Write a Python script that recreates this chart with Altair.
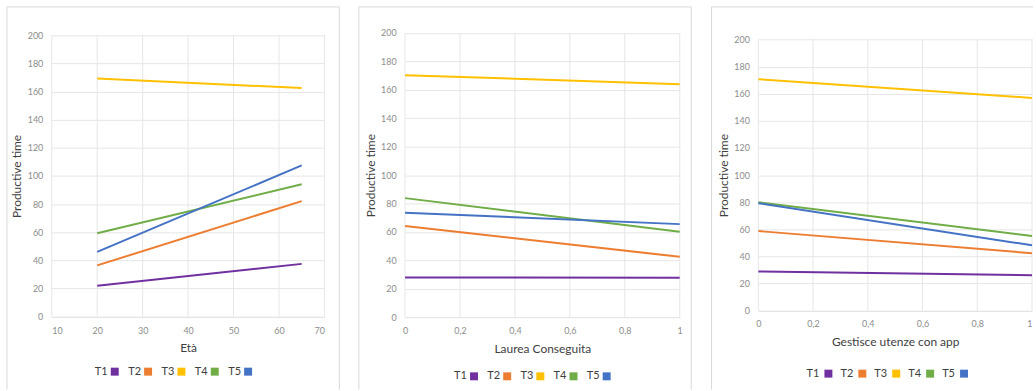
import altair as alt
import pandas as pd

# ---- data -------------------------------------------------------------
SERIES = ["T1", "T2", "T3", "T4", "T5"]
COLORS = ["#7030A0", "#ED7D31", "#FFC000", "#70AD47", "#4472C4"]

# Età (years)
ETA_X = [20, 65]
ETA_START = [21.9, 36.4, 169.2, 59.2, 46.0]
ETA_END = [37.5, 82.1, 162.5, 94.1, 107.5]

# Laurea Conseguita (0 = no, 1 = yes)
LAUREA_X = [0, 1]
LAUREA_START = [28.0, 64.2, 170.3, 83.8, 73.5]
LAUREA_END = [27.7, 42.5, 164.0, 60.2, 65.5]

# Gestisce utenze con app (0 = no, 1 = yes)
APP_X = [0, 1]
APP_START = [28.9, 58.7, 170.8, 80.0, 79.3]
APP_END = [26.2, 42.4, 156.9, 55.1, 48.2]

Y_TICKS = [0, 20, 40, 60, 80, 100, 120, 140, 160, 180, 200]
ETA_TICKS = [10, 20, 30, 40, 50, 60, 70]
FRAC_TICKS = [0, 0.2, 0.4, 0.6, 0.8, 1]

# ---- styling ----------------------------------------------------------
FONT = "Lato"
GRID = "#e6e6e6"
FRAME = "#d9d9d9"
TICK_TXT = "#8c8c8c"
TITLE_TXT = "#404040"

color_enc = alt.Color(
    "series:N", scale=alt.Scale(domain=SERIES, range=COLORS), legend=None
)


def panel(title, xs, starts, ends, x_domain, x_ticks, comma, g):
    rows = []
    for s, a, b in zip(SERIES, starts, ends):
        rows.append({"series": s, "x": xs[0], "y": a})
        rows.append({"series": s, "x": xs[1], "y": b})
    df = pd.DataFrame(rows)

    W, H, TOP = g["w"], g["h"], g["top"]

    x_scale = alt.Scale(domain=x_domain, nice=False, zero=False)
    y_scale = alt.Scale(domain=[0, 200], nice=False, zero=False, range=[H, TOP])

    x_axis_kw = dict(
        values=x_ticks,
        title=title,
        grid=False,
        domainColor=GRID,
        ticks=False,
        tickSize=0,
        labelFont=FONT,
        labelFontSize=9,
        labelColor=TICK_TXT,
        labelBaseline="alphabetic",
        labelPadding=g["xlab"],
        titleFont=FONT,
        titleFontSize=12,
        titleFontWeight="normal",
        titleColor=TITLE_TXT,
        titleBaseline="alphabetic",
        titleX=W / 2,
        titleY=35.5,
    )
    if comma:
        x_axis_kw["labelExpr"] = "replace(format(datum.value, '.1~f'), '.', ',')"
        x_axis_kw["labelAlign"] = {
            "condition": {"test": "datum.value >= 1", "value": g["last_align"]},
            "value": "center",
        }

    y_axis = alt.Axis(
        values=Y_TICKS,
        title="Productive time",
        grid=True,
        gridColor=GRID,
        domain=False,
        ticks=False,
        tickSize=0,
        labelFont=FONT,
        labelFontSize=9,
        labelColor=TICK_TXT,
        labelPadding=9,
        titleFont=FONT,
        titleFontSize=12,
        titleFontWeight="normal",
        titleColor=TITLE_TXT,
        titleAngle=-90,
        titleAlign="center",
        titleBaseline="middle",
        titleX=-35,
        titleY=(H + TOP) / 2,
    )

    # vertical gridlines, spanning 0..200 only
    vgrid = (
        alt.Chart(pd.DataFrame({"x": x_ticks}))
        .mark_rule(color=GRID, strokeWidth=1)
        .encode(
            x=alt.X("x:Q", scale=x_scale, axis=None),
            y=alt.datum(0, scale=y_scale, axis=y_axis),
            y2=alt.datum(200),
        )
    )

    lines = (
        alt.Chart(df)
        .mark_line(strokeWidth=2)
        .encode(
            x=alt.X("x:Q", scale=x_scale, axis=alt.Axis(**x_axis_kw)),
            y=alt.Y("y:Q", scale=y_scale, axis=y_axis),
            color=color_enc,
        )
    )

    # panel frame (top, left and optionally right edges)
    one = pd.DataFrame({"k": [0]})
    frame_layers = [
        alt.Chart(one).mark_rule(color=FRAME, strokeWidth=1).encode(
            x=alt.value(g["fl"]), x2=alt.value(g["fr"]),
            y=alt.value(0.5), y2=alt.value(0.5),
        ),
        alt.Chart(one).mark_rule(color=FRAME, strokeWidth=1).encode(
            x=alt.value(g["fl"]), x2=alt.value(g["fl"]),
            y=alt.value(0.5), y2=alt.value(g["fb"]),
        ),
    ]
    if g["right_edge"]:
        frame_layers.append(
            alt.Chart(one).mark_rule(color=FRAME, strokeWidth=1).encode(
                x=alt.value(g["fr"]), x2=alt.value(g["fr"]),
                y=alt.value(0.5), y2=alt.value(g["fb"]),
            )
        )

    # legend row: label followed by a colour square
    leg_df = pd.DataFrame({"series": SERIES})
    leg_x = alt.X(
        "series:N",
        scale=alt.Scale(domain=SERIES, range=[g["lx0"], g["lx1"]], padding=0),
        axis=None,
    )
    leg_text = (
        alt.Chart(leg_df)
        .mark_text(align="left", baseline="middle", font=FONT, fontSize=11, color=TITLE_TXT)
        .encode(x=leg_x, y=alt.value(g["ly"]), text="series:N")
    )
    leg_sq = (
        alt.Chart(leg_df)
        .mark_square(size=64, opacity=1, xOffset=g["sq"])
        .encode(x=leg_x, y=alt.value(g["ly"]), color=color_enc)
    )

    return (
        alt.layer(*frame_layers, vgrid, lines, leg_text, leg_sq)
        .resolve_scale(x="independent")
        .properties(width=W, height=H)
    )


# geometry: view top sits on the panel frame's top edge
p1 = panel(
    "Età", ETA_X, ETA_START, ETA_END, [10, 70], ETA_TICKS, False,
    dict(w=274, h=311.7, top=29, xlab=16.6, fl=-45, fr=289, fb=385,
         right_edge=True, lx0=43.3, lx1=177.3, ly=367, sq=20, last_align="center"),
)
p2 = panel(
    "Laurea Conseguita", LAUREA_X, LAUREA_START, LAUREA_END, [0, 1], FRAC_TICKS, True,
    dict(w=276, h=312.3, top=26.7, xlab=16.7, fl=-46.4, fr=287.6, fb=385,
         right_edge=True, lx0=49.3, lx1=182.6, ly=371.7, sq=20, last_align="center"),
)
p3 = panel(
    "Gestisce utenze con app", APP_X, APP_START, APP_END, [0, 1], FRAC_TICKS, True,
    dict(w=275, h=305.7, top=33.3, xlab=15.6, fl=-47, fr=276, fb=385,
         right_edge=False, lx0=48.4, lx1=184.7, ly=369, sq=22, last_align="right"),
)

chart = (
    alt.hconcat(p1, p2, p3, spacing=18)
    .properties(padding={"left": 6, "top": 5.5, "right": 0, "bottom": 0}, background="white")
    .configure_view(stroke=None)
)

chart.save("out.html", embed_options={"renderer": "svg", "actions": False})
